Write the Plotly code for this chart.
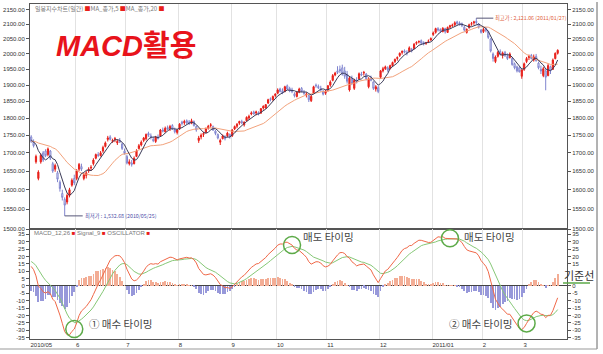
import numpy as np
import pandas as pd
import plotly.graph_objects as go

# ---------------- data ----------------
holidays = ["2010-05-05", "2010-05-21", "2010-06-02", "2010-09-21", "2010-09-22",
            "2010-09-23", "2010-12-31", "2011-02-02", "2011-02-03", "2011-02-04", "2011-03-01"]
month_labels = ["2010/05", "6", "7", "8", "9", "10", "11", "12", "2011/01", "2", "3"]
price_ticks = [1500, 1550, 1600, 1650, 1700, 1750, 1800, 1850, 1900, 1950, 2000, 2050, 2100, 2150]
macd_ticks = [-35, -30, -25, -20, -15, -10, -5, 0, 5, 10, 15, 20, 25, 30, 35]

# closes before the visible window (Feb-Apr 2010), used only to warm up MA / MACD
warmup_close = [
    1615, 1625, 1628, 1625, 1567, 1571, 1568, 1570, 1594, 1587, 1601, 1622, 1623, 1600, 1620, 1615, 1605, 1594, 1594,
    1618, 1620, 1615, 1632, 1650, 1659, 1660, 1651, 1652, 1649, 1665, 1680, 1682, 1674, 1669, 1685, 1690, 1682, 1682, 1690, 1700, 1692,
    1711, 1722, 1728, 1725, 1725, 1714, 1724, 1729, 1718, 1738, 1743, 1727, 1720, 1735, 1748, 1738, 1742, 1752, 1745, 1725, 1738, 1741,
]

open_ = [
    1745, 1730, 1675, 1630, 1675, 1700, 1705, 1695, 1705, 1670, 1655, 1645, 1620, 1590, 1575, 1568, 1585, 1612, 1630,
    1630, 1655, 1662, 1630, 1638, 1650, 1658, 1670, 1685, 1695, 1692, 1705, 1718, 1738, 1745, 1732, 1738, 1728, 1735, 1725, 1705,
    1690, 1670, 1672, 1670, 1690, 1712, 1722, 1735, 1740, 1755, 1748, 1738, 1732, 1745, 1748, 1765, 1760, 1772, 1770, 1778, 1765, 1758,
    1768, 1788, 1786, 1792, 1788, 1785, 1790, 1775, 1735, 1745, 1752, 1758, 1770, 1778, 1775, 1762, 1752, 1730, 1740, 1745, 1748, 1752,
    1748, 1768, 1776, 1785, 1790, 1780, 1792, 1800, 1812, 1818, 1815, 1815, 1815, 1830, 1830, 1845, 1858, 1855, 1868,
    1875, 1888, 1882, 1880, 1898, 1890, 1885, 1872, 1865, 1878, 1890, 1878, 1870, 1868, 1852, 1875, 1900, 1896, 1890, 1880, 1875,
    1885, 1900, 1915, 1932, 1945, 1950, 1955, 1945, 1935, 1885, 1920, 1890, 1915, 1920, 1935, 1938, 1935, 1895, 1922, 1910, 1888, 1892,
    1925, 1945, 1952, 1955, 1952, 1962, 1975, 1985, 1995, 2005, 2010, 2005, 2008, 2015, 2018, 2035, 2040, 2044, 2038, 2035, 2042, 2046,
    2065, 2072, 2085, 2082, 2075, 2085, 2072, 2090, 2095, 2098, 2108, 2104, 2102, 2090, 2072, 2088, 2100, 2105, 2110, 2100, 2080,
    2075, 2085, 2075, 2050, 2000, 1975, 1992, 2008, 1995, 2005, 1992, 1988, 1985, 1968, 1958, 1955, 1928,
    1950, 1975, 1988, 1995, 1980, 1992, 1970, 1950, 1930, 1945, 1930, 1958, 1950, 1985, 2002,
]
high = [
    1750, 1738, 1695, 1652, 1698, 1705, 1710, 1715, 1708, 1675, 1670, 1650, 1625, 1600, 1580, 1590, 1605, 1630, 1640,
    1655, 1672, 1670, 1645, 1650, 1660, 1666, 1685, 1698, 1702, 1705, 1720, 1732, 1748, 1750, 1740, 1745, 1738, 1742, 1728, 1712,
    1695, 1682, 1680, 1690, 1710, 1725, 1735, 1745, 1755, 1760, 1755, 1745, 1748, 1752, 1768, 1772, 1775, 1778, 1780, 1782, 1772, 1768,
    1785, 1792, 1795, 1796, 1794, 1798, 1793, 1778, 1748, 1755, 1760, 1772, 1780, 1785, 1778, 1765, 1755, 1740, 1752, 1750, 1760, 1755,
    1768, 1778, 1785, 1792, 1795, 1790, 1805, 1810, 1820, 1822, 1822, 1820, 1830, 1838, 1842, 1858, 1862, 1868, 1875,
    1890, 1892, 1890, 1898, 1902, 1895, 1892, 1878, 1882, 1892, 1894, 1885, 1878, 1870, 1870, 1898, 1905, 1902, 1898, 1885, 1885,
    1900, 1915, 1935, 1942, 1960, 1962, 1965, 1958, 1945, 1928, 1930, 1920, 1925, 1940, 1942, 1945, 1938, 1925, 1930, 1912, 1900, 1898,
    1948, 1958, 1962, 1960, 1965, 1975, 1985, 1992, 2005, 2012, 2015, 2012, 2025, 2020, 2036, 2042, 2045, 2048, 2042, 2040, 2048, 2055,
    2075, 2088, 2090, 2086, 2090, 2088, 2092, 2098, 2102, 2110, 2112, 2110, 2106, 2094, 2086, 2102, 2108, 2112, 2121.06, 2104, 2084,
    2088, 2090, 2078, 2052, 2005, 1995, 2010, 2015, 2008, 2010, 2002, 2005, 1990, 1972, 1962, 1960, 1950,
    1972, 1990, 1998, 2000, 1998, 2000, 1975, 1962, 1958, 1950, 1968, 1962, 1985, 2005, 2015,
]
low = [
    1728, 1715, 1670, 1625, 1670, 1675, 1688, 1690, 1680, 1645, 1648, 1620, 1595, 1572, 1532.68, 1562, 1580, 1608, 1612,
    1625, 1650, 1650, 1625, 1630, 1645, 1650, 1665, 1682, 1688, 1690, 1700, 1715, 1732, 1735, 1728, 1730, 1722, 1728, 1708, 1695,
    1668, 1665, 1662, 1668, 1688, 1710, 1718, 1730, 1735, 1745, 1738, 1730, 1728, 1738, 1745, 1758, 1758, 1765, 1762, 1765, 1755, 1752,
    1765, 1778, 1780, 1782, 1780, 1782, 1775, 1760, 1728, 1738, 1745, 1755, 1766, 1772, 1762, 1750, 1738, 1722, 1738, 1735, 1745, 1740,
    1745, 1765, 1770, 1780, 1782, 1775, 1790, 1795, 1808, 1810, 1808, 1808, 1812, 1825, 1828, 1842, 1850, 1852, 1862,
    1872, 1878, 1872, 1878, 1885, 1878, 1875, 1862, 1862, 1875, 1878, 1870, 1862, 1848, 1848, 1872, 1892, 1888, 1880, 1868, 1870,
    1880, 1895, 1912, 1928, 1935, 1938, 1930, 1920, 1905, 1880, 1900, 1885, 1905, 1918, 1928, 1930, 1915, 1890, 1912, 1885, 1880, 1875,
    1920, 1940, 1948, 1942, 1950, 1958, 1970, 1978, 1990, 1998, 2002, 1995, 2005, 2005, 2015, 2030, 2035, 2032, 2028, 2030, 2036, 2044,
    2060, 2068, 2075, 2070, 2072, 2068, 2070, 2085, 2090, 2094, 2098, 2095, 2090, 2075, 2068, 2085, 2095, 2098, 2100, 2085, 2068,
    2070, 2072, 2050, 2005, 1975, 1970, 1988, 1995, 1985, 1990, 1980, 1985, 1962, 1950, 1940, 1940, 1920,
    1945, 1970, 1980, 1982, 1975, 1975, 1950, 1935, 1925, 1884, 1928, 1935, 1948, 1982, 1998,
]
close = [
    1732, 1720, 1690, 1647, 1693, 1680, 1692, 1711, 1685, 1650, 1665, 1628, 1603, 1580, 1560, 1585, 1600, 1625, 1618,
    1650, 1668, 1655, 1640, 1645, 1655, 1660, 1680, 1695, 1693, 1700, 1715, 1728, 1742, 1738, 1735, 1740, 1732, 1730, 1712, 1698,
    1672, 1675, 1668, 1685, 1705, 1720, 1730, 1742, 1752, 1750, 1745, 1735, 1745, 1740, 1765, 1762, 1770, 1768, 1775, 1768, 1760, 1765,
    1782, 1784, 1790, 1786, 1783, 1792, 1778, 1765, 1742, 1750, 1755, 1768, 1776, 1780, 1765, 1755, 1742, 1735, 1748, 1740, 1756, 1745,
    1765, 1775, 1782, 1790, 1786, 1788, 1802, 1805, 1815, 1812, 1818, 1812, 1828, 1835, 1840, 1855, 1856, 1865, 1872,
    1885, 1880, 1876, 1895, 1888, 1882, 1880, 1868, 1878, 1888, 1880, 1875, 1872, 1855, 1865, 1895, 1898, 1892, 1885, 1872, 1882,
    1898, 1910, 1930, 1938, 1940, 1945, 1935, 1928, 1912, 1922, 1905, 1915, 1910, 1936, 1932, 1940, 1920, 1920, 1915, 1890, 1895, 1880,
    1945, 1952, 1958, 1948, 1962, 1972, 1982, 1988, 2002, 2008, 2006, 2004, 2020, 2012, 2032, 2038, 2041, 2036, 2033, 2037, 2043, 2051,
    2070, 2085, 2080, 2076, 2086, 2074, 2089, 2095, 2097, 2105, 2102, 2100, 2095, 2080, 2082, 2098, 2102, 2108, 2106, 2090, 2072,
    2082, 2078, 2055, 2010, 1985, 1990, 2005, 1998, 2003, 1995, 1985, 2000, 1965, 1955, 1945, 1942, 1948,
    1968, 1985, 1992, 1985, 1990, 1978, 1955, 1945, 1952, 1925, 1962, 1945, 1980, 2002, 2012,
]

# ---------------- derived ----------------
dates = [d for d in pd.bdate_range("2010-05-03", "2011-03-22") if d.strftime("%Y-%m-%d") not in holidays]
n = min(len(dates), len(open_), len(high), len(low), len(close))
dates = dates[:n]
idx = list(range(n))
w = len(warmup_close)
allc = pd.Series(warmup_close + close[:n], dtype=float)
ma5 = allc.rolling(5).mean().iloc[w:].values
ma20 = allc.rolling(20).mean().iloc[w:].values
ema12 = allc.ewm(span=12, adjust=False).mean()
ema26 = allc.ewm(span=26, adjust=False).mean()
macd_all = ema12 - ema26
sig_all = macd_all.ewm(span=9, adjust=False).mean()
macd = macd_all.iloc[w:].values
signal = sig_all.iloc[w:].values
osc = macd - signal

mstart = [i for i in range(n) if i == 0 or dates[i].month != dates[i - 1].month]
gridpos = [i - 0.5 for i in mstart]

# ---------------- geometry helpers (pixels -> paper) ----------------
W, H = 603, 354
ML, MR, MT, MB = 30, 36, 4, 15
PW, PH = W - ML - MR, H - MT - MB
def px(x):
    return (x - ML) / PW
def py(y):
    return (MT + PH - y) / PH
split = py(229)

RED = "#e8201a"
BLUE = "#8085cf"
TICKF = dict(family="Liberation Sans, Arial", size=6, color="#333333")
KR = "Noto Sans CJK KR"

fig = go.Figure()
fig.add_trace(go.Candlestick(
    x=idx, open=open_[:n], high=high[:n], low=low[:n], close=close[:n],
    increasing=dict(line=dict(color=RED, width=1), fillcolor=RED),
    decreasing=dict(line=dict(color=BLUE, width=1), fillcolor="#ffffff"),
    whiskerwidth=0, xaxis="x", yaxis="y", showlegend=False, hoverinfo="skip"))
fig.add_trace(go.Scatter(x=idx, y=ma20, mode="lines", line=dict(color="#f2a27c", width=1),
                         xaxis="x", yaxis="y", showlegend=False, hoverinfo="skip"))
fig.add_trace(go.Scatter(x=idx, y=ma5, mode="lines", line=dict(color="#3b3b58", width=1),
                         xaxis="x", yaxis="y", showlegend=False, hoverinfo="skip"))
# invisible twin for right price labels
fig.add_trace(go.Scatter(x=idx, y=close[:n], mode="lines", line=dict(width=0), opacity=0,
                         xaxis="x", yaxis="y3", showlegend=False, hoverinfo="skip"))

fig.add_trace(go.Bar(x=idx, y=osc, width=0.32,
                     marker=dict(color=["#f3ad95" if v >= 0 else "#9798da" for v in osc], line=dict(width=0)),
                     xaxis="x2", yaxis="y2", showlegend=False, hoverinfo="skip"))
fig.add_trace(go.Scatter(x=idx, y=signal, mode="lines", line=dict(color="#86c877", width=1),
                         xaxis="x2", yaxis="y2", showlegend=False, hoverinfo="skip"))
fig.add_trace(go.Scatter(x=idx, y=macd, mode="lines", line=dict(color="#f06848", width=1),
                         xaxis="x2", yaxis="y2", showlegend=False, hoverinfo="skip"))
fig.add_trace(go.Scatter(x=idx, y=macd, mode="lines", line=dict(width=0), opacity=0,
                         xaxis="x2", yaxis="y4", showlegend=False, hoverinfo="skip"))

xr = [-0.5, 223.9]
prange = [np.log10(1500), np.log10(2171)]
mrange = [-36, 38.6]
axline = dict(showline=True, linecolor="#555555", linewidth=1, mirror=True)
right_macd_ticks = [v for v in macd_ticks if v not in (5, 10)]

fig.update_layout(
    width=W, height=H, margin=dict(l=ML, r=MR, t=MT, b=MB),
    paper_bgcolor="white", plot_bgcolor="white",
    xaxis=dict(domain=[0, 1], anchor="y", range=xr, tickvals=gridpos, showticklabels=False, ticks="",
               showgrid=True, gridcolor="#e2e2e2", gridwidth=1, zeroline=False,
               rangeslider=dict(visible=False), **axline),
    xaxis2=dict(domain=[0, 1], anchor="y2", range=xr, matches="x", tickvals=gridpos, ticktext=month_labels[:len(gridpos)],
                ticks="", ticklabelposition="outside right", tickfont=TICKF,
                showgrid=True, gridcolor="#e2e2e2", gridwidth=1, zeroline=False, **axline),
    yaxis=dict(domain=[split, 1], anchor="x", type="log", range=prange,
               tickvals=price_ticks, ticktext=[f"{v:.2f}" for v in price_ticks],
               ticks="outside", ticklen=3, tickcolor="#555555", tickfont=TICKF,
               showgrid=False, zeroline=False, **axline),
    yaxis3=dict(overlaying="y", side="right", anchor="x", type="log", range=prange,
                tickvals=price_ticks, ticktext=[f"{v:.2f}" for v in price_ticks],
                ticks="outside", ticklen=3, tickcolor="#555555", tickfont=TICKF,
                showgrid=False, zeroline=False, showline=False),
    yaxis2=dict(domain=[0, split], anchor="x2", range=mrange,
                tickvals=macd_ticks, ticktext=[str(v) for v in macd_ticks],
                ticks="outside", ticklen=3, tickcolor="#555555", tickfont=TICKF,
                showgrid=False, zeroline=True, zerolinecolor="#444444", zerolinewidth=1, **axline),
    yaxis4=dict(overlaying="y2", side="right", anchor="x2", range=mrange,
                tickvals=right_macd_ticks, ticktext=[str(v) for v in right_macd_ticks],
                ticks="outside", ticklen=3, tickcolor="#555555", tickfont=TICKF,
                showgrid=False, zeroline=False, showline=False),
    bargap=0,
)

ann = []
# big title
ann.append(dict(xref="paper", yref="paper", x=px(54), y=py(46), xanchor="left", yanchor="middle",
                text="<b><i>MACD</i>활용</b>", showarrow=False,
                font=dict(family="Liberation Sans, " + KR, size=29, color="#e8131b")))
# panel legends
sq = "<span style='color:#e8201a'>■</span>"
ann.append(dict(xref="paper", yref="paper", x=px(33), y=py(8), xanchor="left", yanchor="middle",
                text=f"일봉지수차트(일간) {sq}MA_종가,5 {sq}MA_종가,20 {sq}", showarrow=False,
                font=dict(family=KR, size=6, color="#777777")))
ann.append(dict(xref="paper", yref="paper", x=px(32), y=py(233), xanchor="left", yanchor="middle",
                text=f"MACD_12,26 {sq} Signal_9 {sq} OSCILLATOR {sq}", showarrow=False,
                font=dict(family="Liberation Sans", size=6, color="#777777")))
# low / high markers
i_lo = int(np.argmin(low[:n]))
i_hi = int(np.argmax(high[:n]))
ann.append(dict(xref="x", yref="y", x=i_lo, y=np.log10(low[i_lo]), showarrow=True, arrowhead=0,
                arrowcolor="#555577", arrowwidth=1, ax=18, ay=0, xanchor="left",
                text=f"최저가 : {low[i_lo]:,.2f} ({dates[i_lo].strftime('%Y/%m/%d')})",
                font=dict(family=KR, size=5.3, color="#5050a8")))
ann.append(dict(xref="x", yref="y", x=i_hi, y=np.log10(high[i_hi]), showarrow=True, arrowhead=0,
                arrowcolor="#555577", arrowwidth=1, ax=17, ay=0, xanchor="left",
                text=f"최고가 : {high[i_hi]:,.2f} ({dates[i_hi].strftime('%Y/%m/%d')})",
                font=dict(family=KR, size=5.3, color="#e0603c")))
# timing labels
lab = dict(family=KR, size=10.5, color="#444444")
ann.append(dict(xref="paper", yref="paper", x=px(87), y=py(323), xanchor="left", yanchor="middle",
                text="① 매수 타이밍", showarrow=False, font=lab))
ann.append(dict(xref="paper", yref="paper", x=px(301), y=py(236), xanchor="left", yanchor="middle",
                text="매도 타이밍", showarrow=False, font=lab))
ann.append(dict(xref="paper", yref="paper", x=px(462), y=py(236), xanchor="left", yanchor="middle",
                text="매도 타이밍", showarrow=False, font=lab))
ann.append(dict(xref="paper", yref="paper", x=px(447), y=py(323), xanchor="left", yanchor="middle",
                text="② 매수 타이밍", showarrow=False, font=lab))
ann.append(dict(xref="paper", yref="paper", x=px(562), y=py(275), xanchor="left", yanchor="middle",
                text="기준선", showarrow=False, font=dict(family=KR, size=11, color="#333333")))
fig.update_layout(annotations=ann)

shapes = []
for ci in [18, 109, 175, 207]:
    shapes.append(dict(type="circle", xref="x2", yref="y2", xsizemode="pixel", ysizemode="pixel",
                       xanchor=ci, yanchor=float(macd[ci]), x0=-8.5, x1=8.5, y0=-8.5, y1=8.5,
                       line=dict(color="#5caa48", width=1.5)))
shapes.append(dict(type="line", xref="paper", yref="paper", x0=px(563), x1=px(590), y0=py(283), y1=py(283),
                   line=dict(color="#5caa48", width=1.5)))
# outer frame on the right / bottom
shapes.append(dict(type="line", xref="paper", yref="paper", x0=px(597), x1=px(597), y0=py(2), y1=py(349),
                   line=dict(color="#666666", width=1)))
shapes.append(dict(type="line", xref="paper", yref="paper", x0=px(0), x1=px(597), y0=py(349), y1=py(349),
                   line=dict(color="#999999", width=1)))
fig.update_layout(shapes=shapes)

fig.write_html("out.html")
